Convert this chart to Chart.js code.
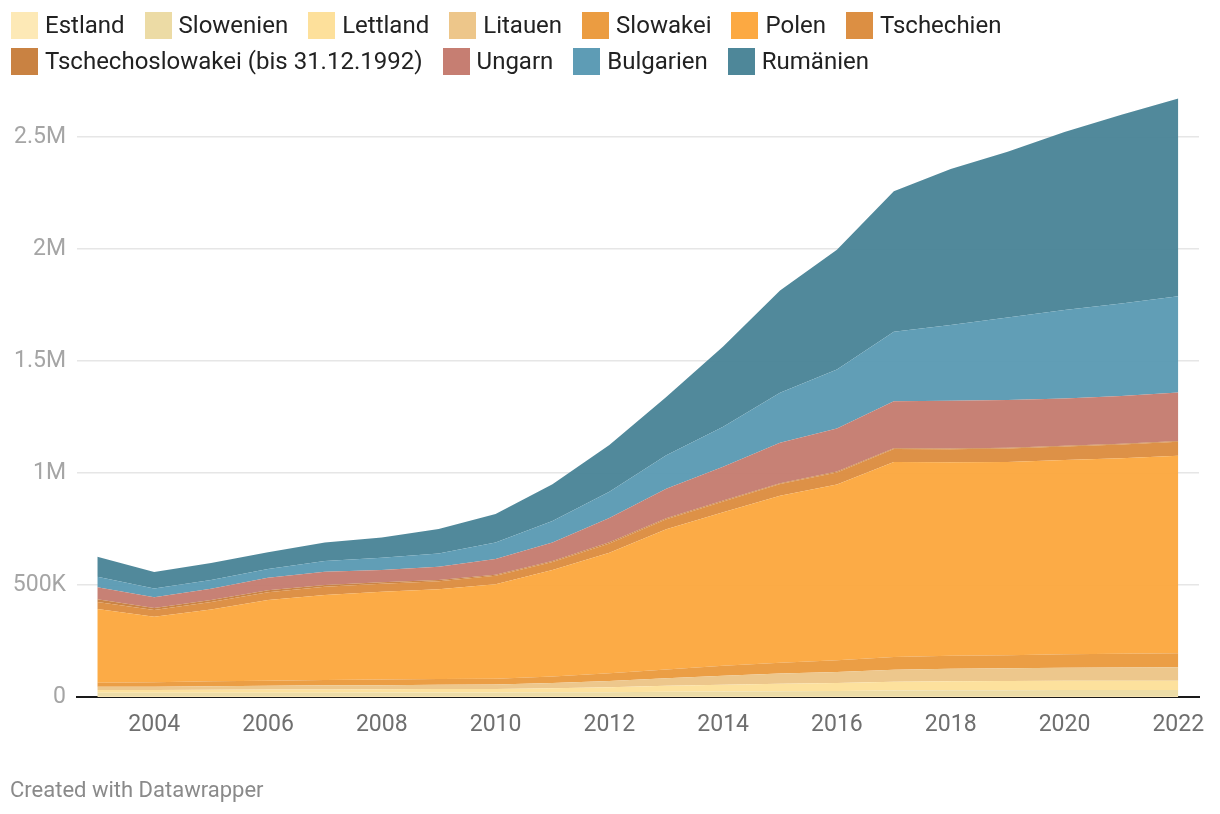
<!DOCTYPE html>
<html><head><meta charset="utf-8">
<script src="https://cdn.jsdelivr.net/npm/chart.js@4"></script>
<style>
html,body{margin:0;padding:0;background:#fff;width:1220px;height:814px;overflow:hidden;font-family:Roboto,sans-serif;}
#wrap{position:absolute;left:0;top:0;width:1220px;height:814px;}
#legend{position:absolute;left:11px;top:12px;width:1205px;display:flex;flex-wrap:wrap;row-gap:9px;}
.item{display:flex;align-items:center;margin-right:20px;height:27px;}
.sw{width:27px;height:27px;margin-right:7px;flex:none;}
.lab{font-size:24px;color:#222;line-height:27px;white-space:nowrap;}
#footer{position:absolute;left:10px;top:777px;font-size:22px;color:#8a8a8a;line-height:26px;}
</style></head>
<body>
<div id="wrap"><canvas id="c" width="1220" height="814"></canvas></div>
<div id="legend"></div>
<div id="footer">Created with Datawrapper</div>
<script>
const years = [2003,2004,2005,2006,2007,2008,2009,2010,2011,2012,2013,2014,2015,2016,2017,2018,2019,2020,2021,2022];
const seriesNames = ["Estland","Slowenien","Lettland","Litauen","Slowakei","Polen","Tschechien","Tschechoslowakei (bis 31.12.1992)","Ungarn","Bulgarien","Rumänien"];
const estland = [4000,4000,4000,4000,4000,4000,4000,4000,4000,4000,5000,5000,5000,5000,5000,5000,5000,5000,5000,5000];
const slowenien = [15000,15000,15000,15000,15000,16000,16000,16000,17000,17000,18000,20000,21000,22000,24000,25000,25000,26000,26000,26000];
const lettland = [12000,12000,13000,14000,15000,15000,16000,16000,18000,23000,27000,30000,33000,35000,39000,40000,41000,42000,42000,42000];
const litauen = [15000,15000,16000,17000,18000,18000,19000,20000,23000,28000,34000,40000,46000,50000,54000,56000,57000,58000,59000,60000];
const slowakei = [18000,20000,22000,23000,24000,25000,25000,26000,30000,34000,39000,44000,48000,52000,57000,58000,59000,60000,61000,62000];
const polen = [329000,292000,321000,360000,379000,392000,401000,422000,475000,538000,626000,686000,746000,785000,871000,864000,863000,867000,873000,882000];
const tschechien = [31000,30000,33000,35000,37000,36000,36000,37000,36000,42000,45000,48000,52000,54000,57000,58000,60000,61000,62000,63000];
const tschechoslowakei = [12000,10000,9000,9000,8000,6000,5000,5000,4000,5000,4000,4000,4000,4000,4000,4000,3000,3000,3000,3000];
const ungarn = [54000,47000,50000,56000,59000,55000,60000,70000,83000,108000,132000,151000,180000,192000,210000,213000,213000,211000,213000,217000];
const bulgarien = [47000,40000,40000,39000,48000,55000,59000,74000,96000,118000,150000,179000,224000,264000,310000,338000,369000,395000,413000,430000];
const rumaenien = [89000,73000,75000,74000,83000,90000,109000,127000,164000,208000,260000,358000,456000,534000,627000,697000,740000,795000,843000,883000];
const xTickYears = [2004,2006,2008,2010,2012,2014,2016,2018,2020,2022];
const yTickValues = [0,500000,1000000,1500000,2000000,2500000];
const yTickLabels = ["0","500K","1M","1.5M","2M","2.5M"];

const seriesValues = [estland,slowenien,lettland,litauen,slowakei,polen,tschechien,tschechoslowakei,ungarn,bulgarien,rumaenien];
const colors = ["#fde9b6","#ecdba5","#fde09b","#edc68a","#eb9c41","#fca942","#dc8f43","#c98242","#c67e72","#5e9cb5","#4e8799"];

function hexA(h,a){const n=parseInt(h.slice(1),16);return `rgba(${n>>16},${(n>>8)&255},${n&255},${a})`;}

const legend = document.getElementById('legend');
seriesNames.forEach((n,i)=>{
  const it=document.createElement('div');it.className='item';
  const sw=document.createElement('div');sw.className='sw';sw.style.background=colors[i];
  const lb=document.createElement('span');lb.className='lab';lb.textContent=n;
  it.appendChild(sw);it.appendChild(lb);legend.appendChild(it);
});

const datasets = seriesNames.map((n,i)=>({
  label:n,
  data: years.map((yr,k)=>({x:yr,y:seriesValues[i][k]})),
  backgroundColor: hexA(colors[i],0.98),
  borderWidth:0,
  pointRadius:0,
  tension:0,
  fill: i===0 ? 'origin' : '-1'
}));

new Chart(document.getElementById('c'),{
  type:'line',
  data:{datasets},
  options:{
    responsive:false,
    animation:false,
    events:[],
    layout:{padding:{top:70,right:21,bottom:0,left:0}},
    plugins:{legend:{display:false},tooltip:{enabled:false}},
    scales:{
      x:{
        type:'linear',
        min:2002.643, max:2022.364,
        afterBuildTicks:(s)=>{s.ticks = xTickYears.map(v=>({value:v}));},
        afterFit:(s)=>{s.height = 117;},
        grid:{display:false},
        border:{display:true,color:'#1a1a1a',width:2},
        ticks:{color:'#6f6f6f',font:{family:'Roboto',size:23},padding:6,maxRotation:0,autoSkip:false,callback:(v)=>String(v)}
      },
      y:{
        stacked:true,
        min:0, max:2800000,
        afterBuildTicks:(s)=>{s.ticks = yTickValues.map(v=>({value:v}));},
        afterFit:(s)=>{s.width = 77;},
        grid:{color:'#e6e6e6',lineWidth:1.5,drawTicks:false},
        border:{display:false},
        ticks:{color:'#a5a5a5',font:{family:'Roboto',size:23},padding:11,callback:(v,i)=>yTickLabels[i]}
      }
    }
  }
});
</script>
</body></html>
